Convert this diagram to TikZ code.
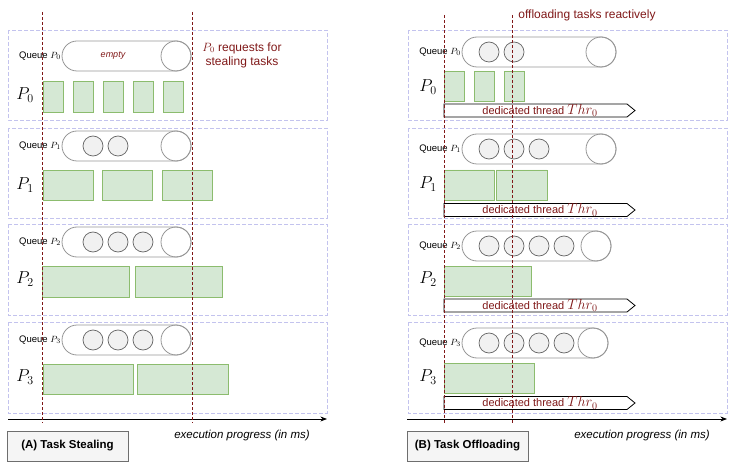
\documentclass[tikz,border=0pt]{standalone}
\usepackage{fontspec}
\setmainfont{Liberation Sans}
\usetikzlibrary{arrows.meta}

\definecolor{lanecol}{RGB}{195,195,238}
\definecolor{darkred}{RGB}{128,24,24}
\definecolor{taskfill}{RGB}{213,232,212}
\definecolor{taskline}{RGB}{140,188,110}
\definecolor{qline}{RGB}{150,150,150}
\definecolor{slotline}{RGB}{100,100,100}
\definecolor{slotfill}{RGB}{241,241,241}
\definecolor{capline}{RGB}{110,110,110}
\definecolor{capfill}{RGB}{245,245,245}

\begin{document}
\begin{tikzpicture}[x=1pt, y=-1pt, >=Stealth, font=\fontsize{9.5}{11}\selectfont,
        lane/.style={draw=lanecol, dash pattern=on 4pt off 2pt, line width=0.7pt},
        task/.style={draw=taskline, fill=taskfill, line width=0.8pt},
        queue/.style={draw=qline, line width=0.8pt},
        slot/.style={draw=slotline, fill=slotfill, line width=0.7pt},
        timeline/.style={draw=darkred, dash pattern=on 3pt off 2pt, line width=0.8pt},
        thread/.style={draw=black, fill=white, line width=0.8pt},
        note/.style={text=darkred, font=\fontsize{12}{14}\selectfont, align=center, inner sep=0},
        caption/.style={draw=capline, fill=capfill, font=\bfseries\fontsize{11.5}{13}\selectfont,
                minimum width=121pt, minimum height=30pt}]
        \useasboundingbox (0,0) rectangle (735,462);
        % lanes of both panels
        \foreach \ox in {0,400}
                \foreach \t/\b in {30/120,128/218,224/315,322/413}
                        \draw[lane] (\ox+8,\t) rectangle (\ox+327,\b);
        % (A) task stealing: queues
        \foreach \i/\y in {0/56,1/146,2/242,3/340} {
                \draw[queue, rounded corners=15pt] (62,\y-15) rectangle (191,\y+15);
                \draw[queue] (176,\y) circle (15pt);
                \node[anchor=east, inner sep=0] (qA\i) at (61,\y) {Queue $P_\i$};
        }
        \node[text=darkred, font=\itshape\fontsize{9}{9}\selectfont] (emp) at (113,56) {empty};
        \foreach \x in {93,118} \draw[slot] (\x,146) circle (10pt);
        \foreach \y in {242,340} \foreach \x in {93,118,143} \draw[slot] (\x,\y) circle (10pt);
        % (A) tasks
        \foreach \x in {43,73,103,133,163} \draw[task] (\x,81) rectangle (\x+20,112);
        \foreach \x in {43,102,162} \draw[task] (\x,170) rectangle (\x+50,200);
        \draw[task] (42,266) rectangle (129,297) (135,266) rectangle (222,297);
        \draw[task] (43,364) rectangle (133,394) (137,364) rectangle (228,394);
        \foreach \i/\y in {0/95,1/185,2/279,3/377}
                \node[font=\fontsize{17}{17}\selectfont] (pA\i) at (25,\y) {$P_\i$};
        % (B) task offloading: queues
        \foreach \i/\y/\r in {0/52/616,1/149/616,2/246/611,3/343/608} {
                \draw[queue, rounded corners=15pt] (462,\y-15) rectangle (\r,\y+15);
                \draw[queue] (\r-15,\y) circle (15pt);
                \node[anchor=east, inner sep=0] (qB\i) at (461,\y) {Queue $P_\i$};
        }
        \foreach \x in {489,514} \draw[slot] (\x,52) circle (10pt);
        \foreach \x in {489,514,539} \draw[slot] (\x,149) circle (10pt);
        \foreach \y in {246,343} \foreach \x in {489,514,539,564} \draw[slot] (\x,\y) circle (10pt);
        % (B) tasks and dedicated threads
        \foreach \x in {444,474,504} \draw[task] (\x,71) rectangle (\x+20,101);
        \draw[task] (444,170) rectangle (494,200) (496,170) rectangle (547,200);
        \draw[task] (444,266) rectangle (531,296);
        \draw[task] (444,363) rectangle (534,393);
        \foreach \i/\y in {0/110.5,1/210,2/305.5,3/403} {
                \draw[thread] (444,\y-6.5) -- (627,\y-6.5) -- (635,\y) -- (627,\y+6.5) -- (444,\y+6.5) -- cycle;
                \node[text=darkred, font=\fontsize{11}{11}\selectfont, inner sep=0] (thr\i) at (540,\y)
                        {dedicated thread {\fontsize{14}{14}\selectfont$Thr_0$}};
        }
        \foreach \i/\y in {0/87,1/184,2/279,3/377}
                \node[font=\fontsize{17}{17}\selectfont] (pB\i) at (428,\y) {$P_\i$};
        % notes
        \node[note] (req) at (242,55) {$P_0$ requests for\\stealing tasks};
        \node[note] (offl) at (587,15) {offloading tasks reactively};
        % time axes
        \coordinate (axA0) at (8,419); \coordinate (axA1) at (327,419);
        \coordinate (axB0) at (407,419); \coordinate (axB1) at (727,419);
        \draw[->, line width=0.8pt] (axA0) -- (axA1);
        \draw[->, line width=0.8pt] (axB0) -- (axB1);
        \node[font=\itshape\fontsize{11.5}{12}\selectfont] (progA) at (242,436) {execution progress (in ms)};
        \node[font=\itshape\fontsize{11.5}{12}\selectfont] (progB) at (642,436) {execution progress (in ms)};
        \node[caption] (capA) at (67.5,446) {(A) Task Stealing};
        \node[caption] (capB) at (467.5,446) {(B) Task Offloading};
        % time marks
        \draw[timeline] (42,12) -- (42,423) (192,12) -- (192,423);
        \draw[timeline] (444,15) -- (444,423) (512,15) -- (512,423);
\end{tikzpicture}
\end{document}
